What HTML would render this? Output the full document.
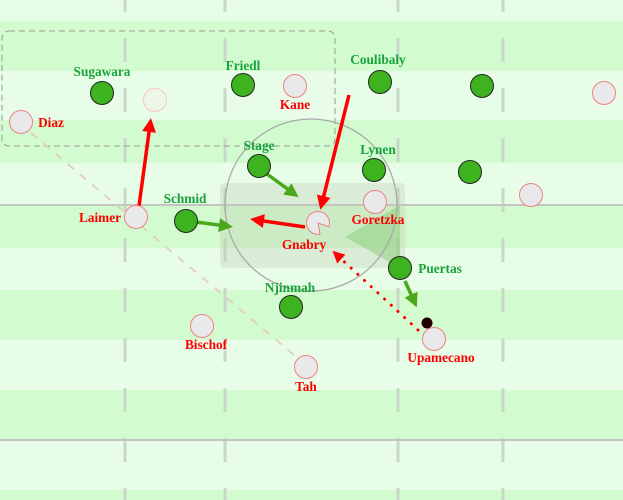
<!DOCTYPE html>
<html><head><style>body{margin:0}svg{display:block}text{font-family:"Liberation Serif",serif;font-weight:bold;font-size:13.3px}</style></head><body>
<svg width="623" height="500" viewBox="0 0 623 500" xmlns="http://www.w3.org/2000/svg">
<defs>
<marker id="ar" markerWidth="4" markerHeight="4" refX="2" refY="2" orient="auto" markerUnits="strokeWidth"><path d="M0,0 L4,2 L0,4 Z" fill="#f00"/></marker>
<marker id="ag" markerWidth="4" markerHeight="4" refX="2" refY="2" orient="auto" markerUnits="strokeWidth"><path d="M0,0 L4,2 L0,4 Z" fill="#4aa81a"/></marker>
<marker id="ad" markerWidth="4" markerHeight="4" refX="1.5" refY="2" orient="auto" markerUnits="strokeWidth"><path d="M0,0 L4,2 L0,4 Z" fill="#f00"/></marker>
</defs>
<rect width="623" height="500" fill="#e8fde8"/>
<g fill="#d2fbd0">
<rect y="21" width="623" height="50"/><rect y="120" width="623" height="43"/><rect y="205" width="623" height="43"/><rect y="290" width="623" height="50"/><rect y="390" width="623" height="50"/><rect y="490" width="623" height="10"/>
</g>
<g stroke="#c8d8c8" stroke-width="3" stroke-dasharray="24 26">
<line x1="125" y1="-12" x2="125" y2="500"/><line x1="225" y1="-12" x2="225" y2="500"/><line x1="398" y1="-12" x2="398" y2="500"/><line x1="503" y1="-12" x2="503" y2="500"/>
</g>
<line x1="0" y1="205" x2="623" y2="205" stroke="#c4c4c4" stroke-width="2"/>
<line x1="0" y1="440" x2="623" y2="440" stroke="#c4c4c4" stroke-width="2"/>
<rect x="2" y="31" width="333" height="115" rx="7" fill="none" stroke="#999" stroke-dasharray="6 4"/>
<line x1="31" y1="133" x2="300" y2="360" stroke="#e0d3b8" stroke-width="2" stroke-dasharray="8 8"/>
<rect x="220" y="183" width="185" height="85" rx="4" fill="#b8c8a8" opacity="0.3"/>
<polygon points="345,237 400,205 400,268" fill="#8fcf80" opacity="0.55"/>
<circle cx="311" cy="205" r="86" fill="none" stroke="#aaa" stroke-width="1.3"/>
<g stroke="#4aa81a" stroke-width="3.5">
<line x1="267" y1="174" x2="293" y2="193" marker-end="url(#ag)"/>
<line x1="196" y1="222" x2="226" y2="226" marker-end="url(#ag)"/>
<line x1="405" y1="281" x2="414" y2="301" marker-end="url(#ag)"/>
</g>
<g stroke="#f00" stroke-width="3.5">
<line x1="139" y1="206" x2="150" y2="125" marker-end="url(#ar)"/>
<line x1="349" y1="95" x2="322" y2="203" marker-end="url(#ar)"/>
<line x1="305" y1="227" x2="257" y2="220" marker-end="url(#ar)"/>
</g>
<line x1="418" y1="330" x2="338" y2="256" stroke="#f00" stroke-width="3" stroke-dasharray="0.1 9" stroke-linecap="round" marker-end="url(#ad)"/>
<g fill="#3db41f" stroke="#222" stroke-width="1">
<circle cx="102" cy="93" r="11.5"/><circle cx="243" cy="85" r="11.5"/><circle cx="380" cy="82" r="11.5"/><circle cx="482" cy="86" r="11.5"/>
<circle cx="259" cy="166" r="11.5"/><circle cx="374" cy="170" r="11.5"/><circle cx="470" cy="172" r="11.5"/>
<circle cx="186" cy="221" r="11.5"/><circle cx="400" cy="268" r="11.5"/><circle cx="291" cy="307" r="11.5"/>
</g>
<g fill="#e9e9eb" stroke="#f08080" stroke-width="1">
<circle cx="21" cy="122" r="11.5"/><circle cx="295" cy="86" r="11.5"/><circle cx="604" cy="93" r="11.5"/>
<circle cx="136" cy="217" r="11.5"/><circle cx="375" cy="202" r="11.5"/><circle cx="531" cy="195" r="11.5"/>
<circle cx="202" cy="326" r="11.5"/><circle cx="306" cy="367" r="11.5"/><circle cx="434" cy="339" r="11.5"/>
<path d="M318,223 L320,234.3 A11.5,11.5 0 1 1 328.8,226.9 Z"/>
</g>
<circle cx="155" cy="100" r="11.5" fill="#eef6ea" stroke="#f4c8c0"/>
<circle cx="427" cy="323" r="5.5" fill="#200"/>
<g fill="#1aa33a" text-anchor="middle">
<text x="102" y="76">Sugawara</text><text x="243" y="70">Friedl</text><text x="378" y="64">Coulibaly</text>
<text x="259" y="150">Stage</text><text x="378" y="154">Lynen</text><text x="185" y="203">Schmid</text>
<text x="440" y="273">Puertas</text><text x="290" y="292">Njinmah</text>
</g>
<g fill="#f00" text-anchor="middle">
<text x="51" y="127">Diaz</text><text x="295" y="109">Kane</text><text x="100" y="222">Laimer</text>
<text x="378" y="224">Goretzka</text><text x="304" y="249">Gnabry</text><text x="206" y="349">Bischof</text>
<text x="306" y="391">Tah</text><text x="441" y="362">Upamecano</text>
</g>
</svg>
</body></html>
